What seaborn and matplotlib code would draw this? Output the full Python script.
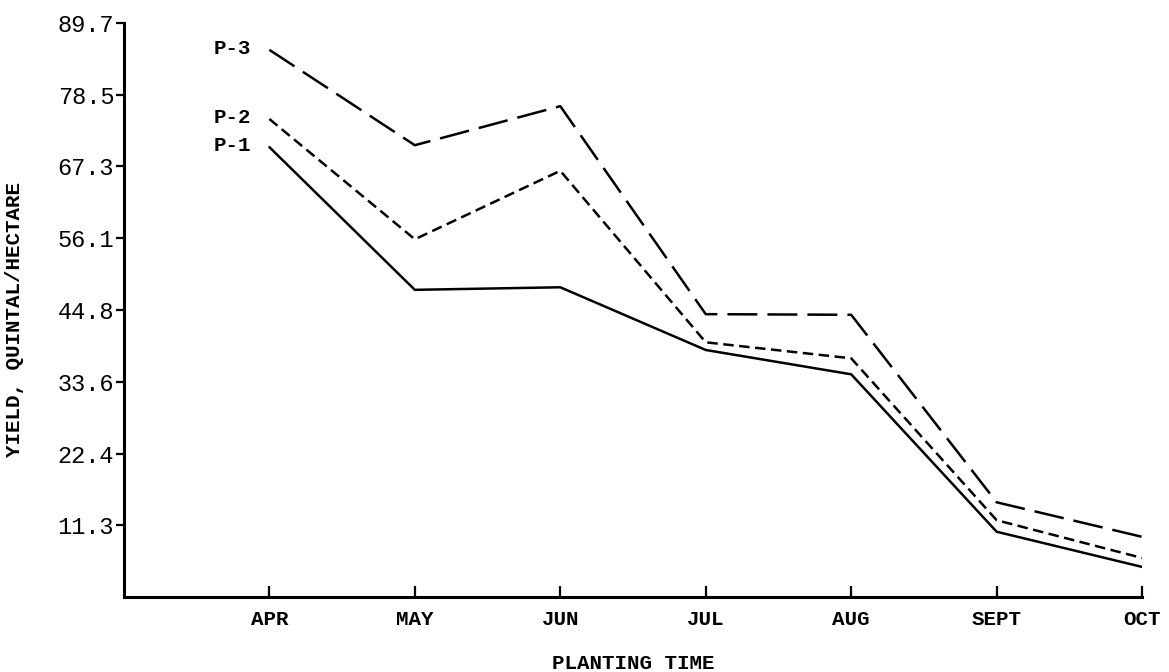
import pandas as pd
import numpy as np
import seaborn as sns
import matplotlib
matplotlib.use('Agg')
import matplotlib.pyplot as plt

sns.set_theme(style='white')
plt.rcParams['font.family'] = ['Liberation Mono', 'DejaVu Sans Mono']
plt.rcParams['text.color'] = 'black'
plt.rcParams['axes.labelcolor'] = 'black'

months = ['APR', 'MAY', 'JUN', 'JUL', 'AUG', 'SEPT', 'OCT']
p1 = [70.3, 48.0, 48.4, 38.6, 34.8, 10.2, 4.7]
p2 = [74.7, 55.9, 66.6, 39.8, 37.3, 12.0, 6.1]
p3 = [85.5, 70.6, 76.7, 44.2, 44.1, 14.8, 9.4]
yticks = [11.3, 22.4, 33.6, 44.8, 56.1, 67.3, 78.5, 89.7]

series = {'P-1': p1, 'P-2': p2, 'P-3': p3}
df = pd.DataFrame([
    {'pos': i, 'month': m, 'yield': v, 'plot': name}
    for name, vals in series.items()
    for i, (m, v) in enumerate(zip(months, vals))
])

fig = plt.figure(figsize=(11.69, 6.72), dpi=100)
ax = fig.add_axes([0.106, 0.1116, 0.871, 0.8542])

sns.lineplot(data=df, x='pos', y='yield', style='plot',
             dashes={'P-1': '', 'P-2': (4.2, 2.2), 'P-3': (12, 4)},
             color='black', linewidth=1.8, legend=False, sort=False, ax=ax)

for name, vals in series.items():
    ax.annotate(name, xy=(0, vals[0]), xytext=(-13, 1), textcoords='offset points',
                ha='right', va='center', fontsize=15, fontweight='bold')

ax.set_xlim(-1, 6)
ax.set_ylim(0, 89.7)
ax.set_xticks(range(len(months)))
ax.set_xticklabels(months, fontsize=15, fontweight='bold')
ax.set_yticks(yticks)
ax.set_yticklabels([f'{t:.1f}' for t in yticks], fontsize=17)

sns.despine(ax=ax)
for side in ['left', 'bottom']:
    ax.spines[side].set_linewidth(2.2)
    ax.spines[side].set_color('black')

ax.tick_params(axis='x', direction='in', length=8, width=1.6, pad=9, colors='black', bottom=True)
ax.tick_params(axis='y', direction='out', length=6, width=1.6, pad=1, colors='black', left=True)

ax.set_xlabel('PLANTING TIME', fontsize=15, fontweight='bold')
ax.set_ylabel('YIELD, QUINTAL/HECTARE', fontsize=15, fontweight='bold')
ax.xaxis.set_label_coords(0.5, -0.1)
ax.yaxis.set_label_coords(-0.098, 0.483)

fig.savefig('out.png', dpi=100)
